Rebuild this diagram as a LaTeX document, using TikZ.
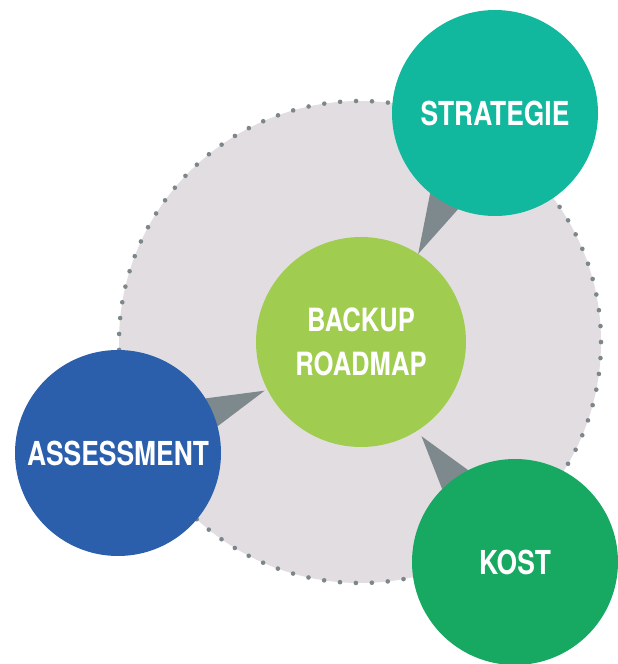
\documentclass[tikz,border=0pt]{standalone}
\usepackage{fontspec}
\newfontfamily\roadfont[FakeStretch=0.8]{TeX Gyre Heros}
\usetikzlibrary{backgrounds,calc}
\definecolor{ringgray}{HTML}{E2DDE0}
\definecolor{dotgray}{HTML}{7D878B}
\definecolor{wedgegray}{HTML}{7E898D}
\definecolor{coregreen}{HTML}{A0CD50}
\definecolor{strategyteal}{HTML}{12B89D}
\definecolor{assessblue}{HTML}{2B5FAC}
\definecolor{costgreen}{HTML}{17A862}

\begin{document}
\begin{tikzpicture}[x=1pt,y=1pt,
	bubble/.style={circle,inner sep=0pt,outer sep=0pt,minimum size=206pt,text=white,
		font=\roadfont\bfseries\fontsize{33}{40}\selectfont},
	wedge/.style={fill=wedgegray}]
		\useasboundingbox (0,0) rectangle (618,664);
		\clip (0,0) rectangle (618,664);
		\node[bubble,fill=coregreen,minimum size=210pt,align=center,
			font=\roadfont\bfseries\fontsize{32}{44}\selectfont] (core) at (361,322) {BACKUP\\ROADMAP};
		\node[bubble,fill=strategyteal] (strategy) at (495,551) {STRATEGIE};
		\node[bubble,fill=assessblue] (assess) at (118,211) {ASSESSMENT};
		\node[bubble,fill=costgreen] (cost) at (515,102) {KOST};
		\coordinate (ring) at (360,322);
		\begin{scope}[on background layer]
			\fill[ringgray] (ring) circle (241);
			\draw[dotgray,line width=4.6pt,line cap=round,dash pattern=on 0pt off 15.94pt] (ring) circle (241);
			\fill[wedge] (strategy.231.6) -- (strategy.249.3) -- (core.57.4) -- cycle;
			\fill[wedge] (assess.32.8) -- (assess.15.6) -- ($(core)+(206.8:108)$) -- cycle;
			\fill[wedge] (cost.135.4) -- (cost.117.3) -- ($(core)+(302.7:112)$) -- cycle;
		\end{scope}
	\end{tikzpicture}
\end{document}
